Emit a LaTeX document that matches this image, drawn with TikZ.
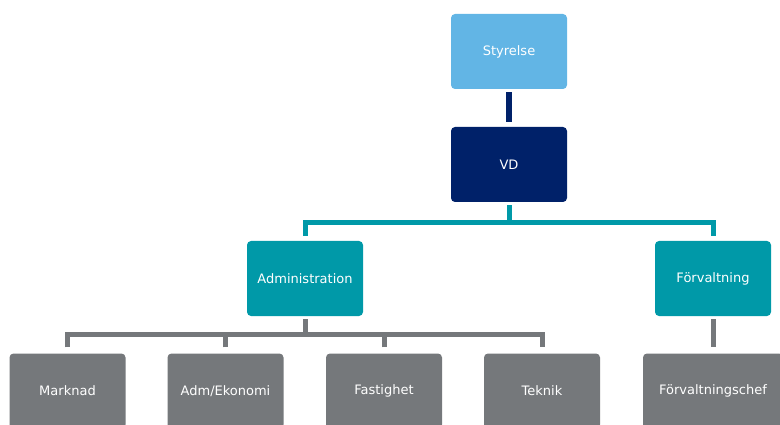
\documentclass[tikz,border=0pt]{standalone}
\usepackage{fontspec}
\setmainfont{DejaVu Sans}
\definecolor{boardblue}{HTML}{62B5E5}
\definecolor{navy}{HTML}{002169}
\definecolor{teal}{HTML}{0099A8}
\definecolor{slate}{HTML}{75787B}
\tikzset{
  unit/.style={rounded corners=4pt, minimum width=116pt, minimum height=75pt,
    inner sep=0pt, text=white, font=\fontsize{13}{15}\selectfont},
  board/.style={unit, fill=boardblue},
  ceo/.style={unit, fill=navy},
  dept/.style={unit, fill=teal},
  team/.style={unit, fill=slate},
  navylink/.style={draw=navy, line width=6pt},
  teallink/.style={draw=teal, line width=5pt},
  graylink/.style={draw=slate, line width=5pt},
}
\begin{document}
\begin{tikzpicture}[x=1pt, y=-1pt]
\useasboundingbox (0,0) rectangle (780,425);
\clip (0,0) rectangle (780,425);

% top levels
\node[board] (styr) at (509,51.5) {Styrelse};
\node[ceo] (vd) at (509,164.5) {VD};
\node[dept] (adm) at (305,278.5) {Administration};
\node[dept] (forv) at (713,278.5) {Förvaltning};

% bottom row
\node[team] (mark) at (67.5,391) {Marknad};
\node[team] (ekon) at (225.5,391) {Adm/Ekonomi};
\node[team] (fast) at (384,391) {Fastighet};
\node[team] (tekn) at (542,391) {Teknik};
\node[team, minimum width=140pt] (fchef) at (713,391) {Förvaltningschef};

% board to CEO
\draw[navylink] ([yshift=-3pt]styr.south) -- ([yshift=5pt]vd.north);

% CEO to departments
\coordinate (tbus) at (509,222.5);
\draw[teallink] ([yshift=-3pt]vd.south) -- (tbus);
\draw[teallink] ([yshift=5pt]adm.north) |- (tbus) -| ([yshift=5pt]forv.north);

% administration to its units
\coordinate (gbus) at (305,334.5);
\draw[graylink] ([yshift=-3pt]adm.south) -- (gbus);
\draw[graylink] ([yshift=6pt]mark.north) |- (gbus) -| ([yshift=6pt]tekn.north);
\draw[graylink] ([yshift=6pt]ekon.north) -- (ekon.north |- gbus);
\draw[graylink] ([yshift=6pt]fast.north) -- (fast.north |- gbus);

% property management to its head
\draw[graylink] ([yshift=-3pt]forv.south) -- ([yshift=6pt]fchef.north);
\end{tikzpicture}
\end{document}
